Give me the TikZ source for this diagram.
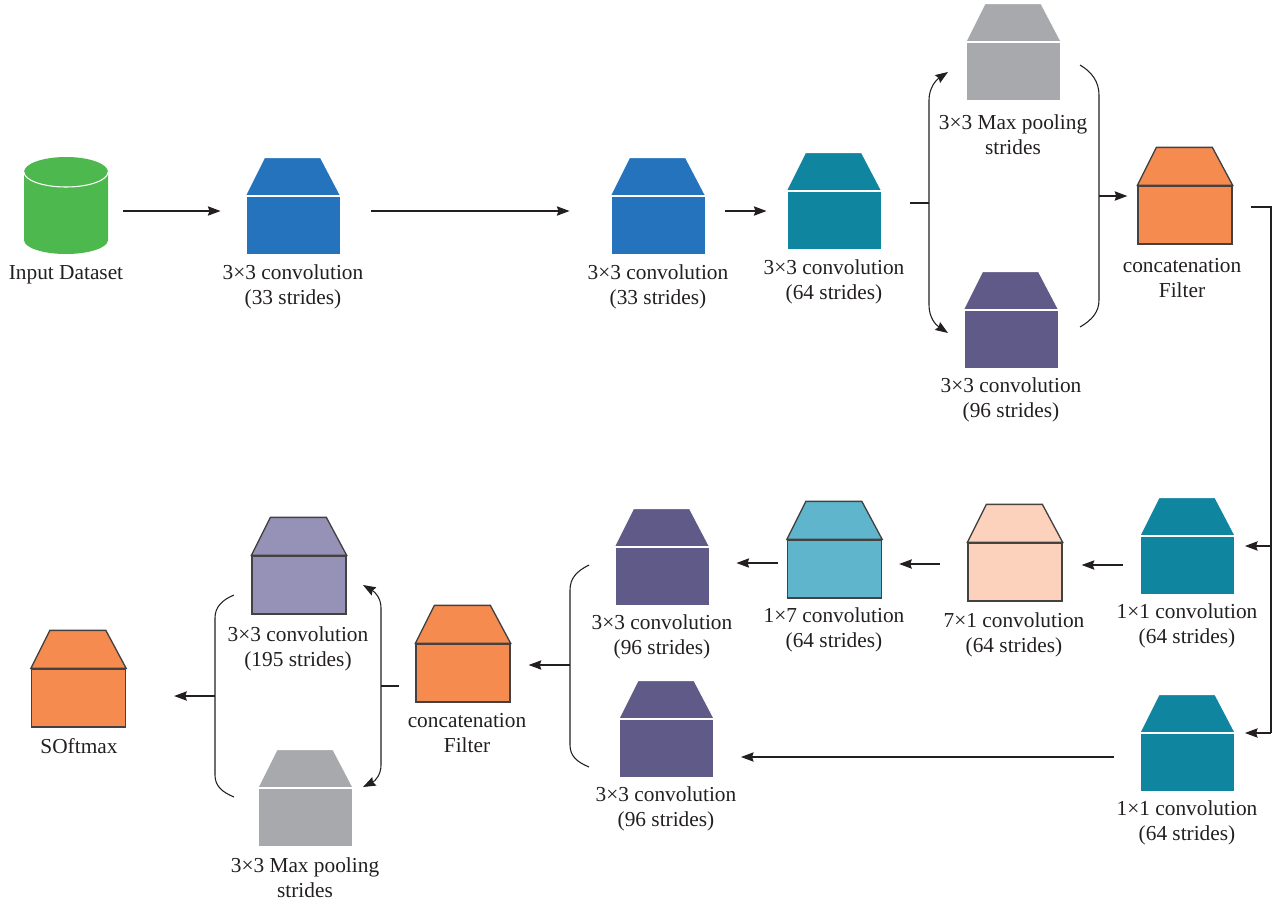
\documentclass[tikz,border=0pt]{standalone}
\usepackage{fontspec}
\usepackage{xcolor}
\usetikzlibrary{arrows.meta}
\setmainfont{Liberation Serif}
\definecolor{dbgreen}{HTML}{4DB84E}
\definecolor{convblue}{HTML}{2573BC}
\definecolor{convteal}{HTML}{10859F}
\definecolor{poolgray}{HTML}{A7A9AC}
\definecolor{convpurple}{HTML}{5F5A87}
\definecolor{concatorange}{HTML}{F68B50}
\definecolor{convpeach}{HTML}{FDD2BC}
\definecolor{convcyan}{HTML}{5FB6CC}
\definecolor{convlilac}{HTML}{9691B7}
\definecolor{inkline}{HTML}{231F20}
\tikzset{
    boxbody/.style={rectangle,inner sep=0pt,minimum width=70.5pt,minimum height=43.5pt},
    plainbox/.style={draw=white,line width=0.7pt},
    edgebox/.style={draw=inkline!85,line width=1pt},
    boxlabel/.style={align=center,inner sep=0pt,text=inkline,font=\fontsize{16}{18.9}\selectfont},
    tip/.tip={Stealth[length=9.5pt,width=7pt,inset=1.2pt]},
    flow/.style={draw=inkline,line width=0.8pt,-tip},
    stub/.style={draw=inkline,line width=1.1pt},
    bracket/.style={draw=inkline,line width=0.8pt},
}
% name, centre x, top y, fill, outline style
\newcommand{\housebox}[5]{%
    \node[boxbody,#5,fill=#4] (#1) at (#2,#3+67) {};
    \draw[#5,fill=#4] (#1.north west) -- ++(19,-38) -- ++(56,0) -- (#1.north east) -- cycle;
}
\begin{document}
\begin{tikzpicture}[x=0.75pt,y=-0.75pt]
    \useasboundingbox (0,0) rectangle (1277,904);

    % input cylinder
    \node[rectangle,inner sep=0pt,minimum width=63pt,minimum height=72.75pt] (data) at (66,205.5) {};
    \fill[dbgreen] (24,172) arc[x radius=42,y radius=15,start angle=180,end angle=360]
        -- (108,240) arc[x radius=42,y radius=14,start angle=0,end angle=180] -- cycle;
    \draw[white,line width=0.8pt] (24,172) arc[x radius=42,y radius=15,start angle=180,end angle=0];
    \node[boxlabel] (lbldata) at (66,275) {Input Dataset};

    % top row
    \housebox{conva}{293}{158}{convblue}{plainbox}
    \node[boxlabel] (lblconva) at (293,287) {3×3 convolution\\(33 strides)};
    \housebox{convb}{658}{158}{convblue}{plainbox}
    \node[boxlabel] (lblconvb) at (658,287) {3×3 convolution\\(33 strides)};
    \housebox{convc}{834}{153}{convteal}{plainbox}
    \node[boxlabel] (lblconvc) at (834,282) {3×3 convolution\\(64 strides)};
    \housebox{poola}{1013.5}{4}{poolgray}{plainbox}
    \node[boxlabel] (lblpoola) at (1013,135) {3×3 Max pooling\\strides};
    \housebox{convd}{1011}{272}{convpurple}{plainbox}
    \node[boxlabel] (lblconvd) at (1011,400) {3×3 convolution\\(96 strides)};
    \housebox{cata}{1185}{148}{concatorange}{edgebox}
    \node[boxlabel] (lblcata) at (1182,278) {concatenation\\Filter};

    % lower rows
    \housebox{conve}{1187.5}{498}{convteal}{plainbox}
    \node[boxlabel] (lblconve) at (1187,626) {1×1 convolution\\(64 strides)};
    \housebox{convf}{1015}{505}{convpeach}{edgebox}
    \node[boxlabel] (lblconvf) at (1014,635) {7×1 convolution\\(64 strides)};
    \housebox{convg}{834.5}{502}{convcyan}{edgebox}
    \node[boxlabel] (lblconvg) at (834,630) {1×7 convolution\\(64 strides)};
    \housebox{convh}{662}{509}{convpurple}{plainbox}
    \node[boxlabel] (lblconvh) at (662,637) {3×3 convolution\\(96 strides)};
    \housebox{convi}{666.5}{681}{convpurple}{plainbox}
    \node[boxlabel] (lblconvi) at (666,809) {3×3 convolution\\(96 strides)};
    \housebox{convj}{1187.5}{695}{convteal}{plainbox}
    \node[boxlabel] (lblconvj) at (1187,823) {1×1 convolution\\(64 strides)};
    \housebox{catb}{463}{606}{concatorange}{edgebox}
    \node[boxlabel] (lblcatb) at (467,733) {concatenation\\Filter};
    \housebox{convk}{299}{518}{convlilac}{edgebox}
    \node[boxlabel] (lblconvk) at (298,649) {3×3 convolution\\(195 strides)};
    \housebox{poolb}{305.5}{750}{poolgray}{plainbox}
    \node[boxlabel] (lblpoolb) at (305,878) {3×3 Max pooling\\strides};
    \housebox{soft}{78.5}{631}{concatorange}{edgebox}
    \node[boxlabel] (lblsoft) at (79,746) {SOftmax};

    % free ends on the brackets
    \coordinate (forka) at (929,203);
    \coordinate (forkb) at (1099,196);
    \coordinate (trunk) at (1271,207);
    \coordinate (trunkm) at (1271,546);
    \coordinate (trunke) at (1271,733);
    \coordinate (forkc) at (570,665);
    \coordinate (forkd) at (381,686);
    \coordinate (forke) at (215,696);

    % straight connectors
    \draw[flow] ([shift={(15,5.5)}]data.east) -- ([shift={(-25,-14)}]conva.west);
    \draw[flow] ([shift={(31,-14)}]conva.east) -- ([shift={(-41,-14)}]convb.west);
    \draw[flow] ([shift={(20,-14)}]convb.east) -- ([shift={(-20,-9)}]convc.west);
    \draw[stub] ([shift={(29,-17)}]convc.east) -- (forka);
    \draw[stub,-tip] (forkb) -- ([shift={(-10,-19)}]cata.west);
    \draw[bracket] ([shift={(18,-8)}]cata.east) -- (trunk) -- (trunke);
    \draw[flow] (trunkm) -- ([shift={(10,-19)}]conve.east);
    \draw[flow] (trunke) -- ([shift={(10,-29)}]convj.east);
    \draw[flow] ([shift={(-17,0)}]conve.west) -- ([shift={(19,-7)}]convf.east);
    \draw[flow] ([shift={(-27,-8)}]convf.west) -- ([shift={(17,-5)}]convg.east);
    \draw[flow] ([shift={(-9,-6)}]convg.west) -- ([shift={(27,-13)}]convh.east);
    \draw[flow] ([shift={(-26,-5)}]convj.west) -- ([shift={(27,9)}]convi.east);
    \draw[flow] (forkc) -- ([shift={(18,-8)}]catb.east);
    \draw[stub] ([shift={(-16,13)}]catb.west) -- (forkd);
    \draw[flow] (forke) -- ([shift={(48,-2)}]soft.east);

    % brackets
    \draw[bracket,tip-tip]
        (948,72) .. controls (936,80) and (929,88) .. (929,100) -- (929,305)
        .. controls (929,318) and (936,325) .. (948,333);
    \draw[bracket] (1080,65) .. controls (1092,72) and (1099,82) .. (1099,95) -- (1099,300)
        .. controls (1099,312) and (1092,320) .. (1080,327);
    \draw[bracket] (589,565) .. controls (577,571) and (570,578) .. (570,590) -- (570,745)
        .. controls (570,756) and (577,762) .. (589,767);
    \draw[bracket,tip-tip]
        (363,585) .. controls (375,592) and (381,598) .. (381,608) -- (381,765)
        .. controls (381,775) and (375,781) .. (363,787);
    \draw[bracket] (234,595) .. controls (222,600) and (215,607) .. (215,618) -- (215,775)
        .. controls (215,786) and (222,792) .. (234,797);
\end{tikzpicture}
\end{document}
